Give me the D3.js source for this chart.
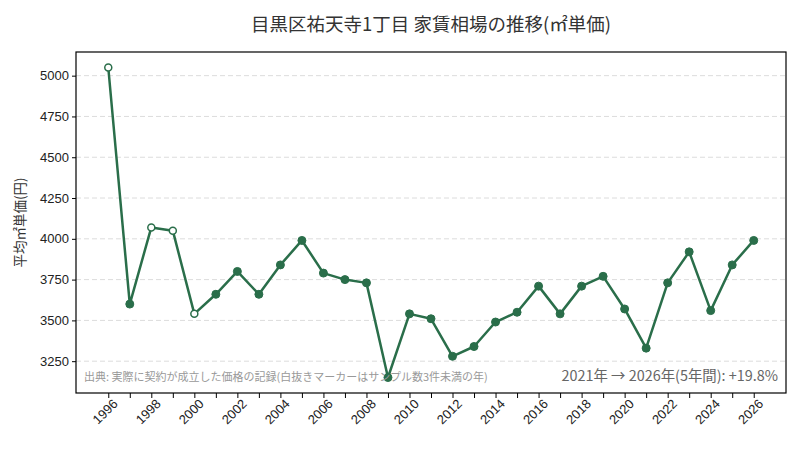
<!DOCTYPE html>
<html>
<head>
<meta charset="utf-8">
<script src="https://cdn.jsdelivr.net/npm/d3@7"></script>
<style>
  body { margin: 0; background: #fff; }
  svg { font-family: "Noto Sans CJK JP", "Noto Sans", sans-serif; }
</style>
</head>
<body>
<svg id="chart" width="800" height="450"></svg>
<script>
let years = d3.range(1996, 2027)
let prices = [5050, 3600, 4070, 4050, 3540, 3660, 3800, 3660, 3840, 3990,
  3790, 3750, 3730, 3150, 3540, 3510, 3280, 3340, 3490, 3550,
  3710, 3540, 3710, 3770, 3570, 3330, 3730, 3920, 3560, 3840, 3990]
// years with fewer than 3 samples (hollow markers)
let fewSamples = [1996, 1998, 1999, 2000]
let yTicks = [3250, 3500, 3750, 4000, 4250, 4500, 4750, 5000]

let titleText = "目黒区祐天寺1丁目 家賃相場の推移(㎡単価)"
let yLabel = "平均㎡単価(円)"
let sourceText = "出典: 実際に契約が成立した価格の記録(白抜きマーカーはサンプル数3件未満の年)"
let changeText = "2021年 → 2026年(5年間): +19.8%"

let color = "#2a6e4a"
let margin = {top: 52, right: 14, bottom: 57, left: 76}
let width = 800, height = 450

let svg = d3.select("#chart")
let data = years.map((y, i) => ({year: y, value: prices[i], few: fewSamples.includes(y)}))

let x = d3.scaleLinear()
  .domain([1994.5, 2027.5])
  .range([margin.left, width - margin.right])

let y = d3.scaleLinear()
  .domain([3055, 5145])
  .range([height - margin.bottom, margin.top])

// grid
svg.append("g")
  .selectAll("line")
  .data(yTicks)
  .enter().append("line")
  .attr("x1", margin.left)
  .attr("x2", width - margin.right)
  .attr("y1", d => y(d))
  .attr("y2", d => y(d))
  .attr("stroke", "#dcdcdc")
  .attr("stroke-width", 1)
  .attr("stroke-dasharray", "5,3")

// x axis
let xAxis = d3.axisBottom(x)
  .tickValues(years)
  .tickSize(5)
  .tickFormat(d => d % 2 === 0 ? d : "")

let gx = svg.append("g")
  .attr("transform", `translate(0,${height - margin.bottom})`)
  .call(xAxis)
gx.select(".domain").remove()
gx.selectAll(".tick line").attr("stroke", "#000")
gx.selectAll(".tick text")
  .attr("font-size", 13)
  .attr("fill", "#222")
  .attr("text-anchor", "end")
  .attr("dx", "-0.1em")
  .attr("dy", "0.55em")
  .attr("transform", "rotate(-45)")

// y axis
let gy = svg.append("g")
  .attr("transform", `translate(${margin.left},0)`)
  .call(d3.axisLeft(y).tickValues(yTicks).tickSize(4).tickFormat(d3.format("d")))
gy.select(".domain").remove()
gy.selectAll(".tick line").attr("stroke", "#000")
gy.selectAll(".tick text").attr("font-size", 13).attr("fill", "#222")

// frame
svg.append("rect")
  .attr("x", margin.left)
  .attr("y", margin.top)
  .attr("width", width - margin.left - margin.right)
  .attr("height", height - margin.top - margin.bottom)
  .attr("fill", "none")
  .attr("stroke", "#000")
  .attr("stroke-width", 1.2)

// line
let line = d3.line()
  .x(d => x(d.year))
  .y(d => y(d.value))

svg.append("path")
  .datum(data)
  .attr("d", line)
  .attr("fill", "none")
  .attr("stroke", color)
  .attr("stroke-width", 2.5)
  .attr("stroke-linejoin", "round")

svg.append("g")
  .selectAll("circle")
  .data(data)
  .enter().append("circle")
  .attr("cx", d => x(d.year))
  .attr("cy", d => y(d.value))
  .attr("r", d => d.few ? 3.5 : 4)
  .attr("fill", d => d.few ? "#fff" : color)
  .attr("stroke", color)
  .attr("stroke-width", d => d.few ? 1.5 : 1)

// texts
svg.append("text")
  .attr("x", (margin.left + width - margin.right) / 2)
  .attr("y", 31)
  .attr("text-anchor", "middle")
  .attr("font-size", 18.5)
  .attr("fill", "#333")
  .text(titleText)

svg.append("text")
  .attr("transform", `translate(25,${(margin.top + height - margin.bottom) / 2}) rotate(-90)`)
  .attr("text-anchor", "middle")
  .attr("font-size", 13.5)
  .attr("fill", "#333")
  .text(yLabel)

svg.append("text")
  .attr("x", margin.left + 8)
  .attr("y", 381)
  .attr("font-size", 11)
  .attr("fill", "#999")
  .text(sourceText)

svg.append("text")
  .attr("x", width - margin.right - 8)
  .attr("y", 381)
  .attr("text-anchor", "end")
  .attr("font-size", 14.4)
  .attr("fill", "#666")
  .text(changeText)
</script>
</body>
</html>
